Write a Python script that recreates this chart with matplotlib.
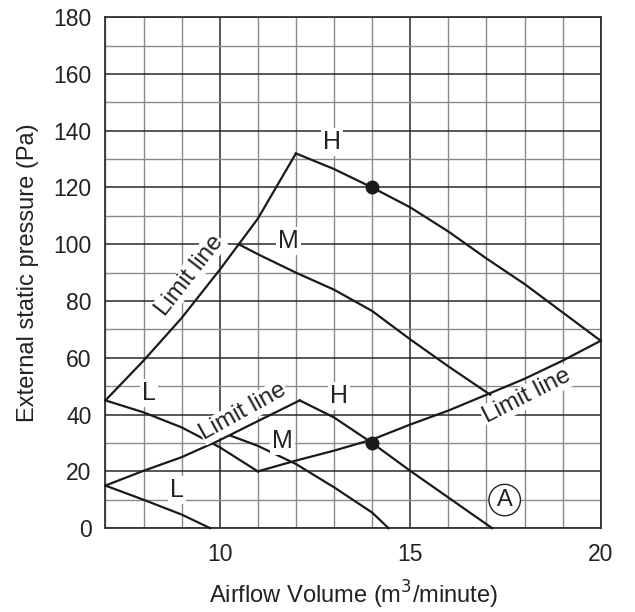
import matplotlib.pyplot as plt

plt.rcParams['font.family'] = ['Liberation Sans', 'DejaVu Sans']

# data
upper_limit_x = [7, 8, 9, 10, 10.5, 11, 12]
upper_limit_y = [45, 59, 74, 91, 100, 109, 132]
upper_h_x = [12, 13, 14, 15, 16, 17, 18, 19, 20]
upper_h_y = [132, 126.5, 120, 113, 104.5, 95, 86, 76, 66]
upper_m_x = [10.5, 11, 12, 13, 14, 15, 16, 17.1]
upper_m_y = [100, 96.5, 90, 84, 76.5, 66.5, 57, 47]

lower_limit_r_x = [11, 12, 13, 14, 15, 16, 17, 18, 19, 20]
lower_limit_r_y = [20, 23.8, 27.3, 31.2, 36.5, 41.4, 47, 52.6, 59, 66]
lower_limit_l_x = [7, 8, 9, 10, 11, 12.1]
lower_limit_l_y = [15, 20.2, 25, 31, 37.7, 45]
lower_h_x = [12.1, 13, 14, 15, 16, 17.15]
lower_h_y = [45, 39, 30, 20.2, 10.8, 0]
lower_m_x = [10.28, 11, 12, 13, 14, 14.43]
lower_m_y = [32.6, 29, 22.6, 14.4, 5.5, 0]
upper_l_x = [7, 8, 9, 10, 11]
upper_l_y = [45, 40.8, 35.5, 28.5, 20]
lower_l_x = [7, 8, 9, 9.75]
lower_l_y = [15, 10, 4.8, 0]

dots_x = [14, 14]
dots_y = [120, 30]

fig = plt.figure(figsize=(6.35, 6.12), dpi=100)
ax = fig.add_axes([0.166, 0.137, 0.78, 0.835])

ax.set_xlim(7, 20)
ax.set_ylim(0, 180)
ax.set_xticks([10, 15, 20])
ax.set_xticks(range(7, 21), minor=True)
ax.set_yticks(range(0, 181, 20))
ax.set_yticks(range(0, 181, 10), minor=True)
ax.grid(which='major', color='#2a2a2a', lw=1.1)
ax.grid(which='minor', color='#8a8a8a', lw=1.0)
ax.set_axisbelow(True)
ax.tick_params(which='both', length=0, labelsize=16.5, colors='#222222')
ax.tick_params(axis='x', pad=11)
ax.tick_params(axis='y', pad=10)
for s in ax.spines.values():
    s.set_color('#333333')
    s.set_linewidth(1.3)

lc = '#1a1a1a'
for xs, ys in [(upper_limit_x, upper_limit_y), (upper_h_x, upper_h_y),
               (upper_m_x, upper_m_y), (lower_limit_r_x, lower_limit_r_y),
               (lower_limit_l_x, lower_limit_l_y), (lower_h_x, lower_h_y),
               (lower_m_x, lower_m_y), (upper_l_x, upper_l_y),
               (lower_l_x, lower_l_y)]:
    ax.plot(xs, ys, color=lc, lw=1.6, zorder=3, clip_on=False)

ax.plot(dots_x, dots_y, 'o', color=lc, ms=9, zorder=4)

box = dict(facecolor='white', edgecolor='none', pad=1.5)
for txt, x, y in [('H', 12.95, 136), ('M', 11.8, 101), ('L', 8.15, 47.5),
                  ('H', 13.12, 46.7), ('M', 11.65, 30.8), ('L', 8.87, 13.4)]:
    ax.text(x, y, txt, fontsize=18, ha='center', va='center', color='#222222',
            bbox=box, zorder=5)

limit_box = dict(facecolor='white', edgecolor='none', pad=0.5)
ax.text(9.2, 89, 'Limit line', fontsize=17.5, rotation=52, ha='center',
        va='center', color='#222222', bbox=limit_box,
        rotation_mode='anchor', zorder=5)
ax.text(10.62, 41, 'Limit line', fontsize=17.5, rotation=29, ha='center',
        va='center', color='#222222', bbox=limit_box,
        rotation_mode='anchor', zorder=5)
ax.text(18.05, 46.4, 'Limit line', fontsize=17.5, rotation=27, ha='center',
        va='center', color='#222222', bbox=limit_box,
        rotation_mode='anchor', zorder=5)

ax.text(17.48, 9.9, 'A', fontsize=17, ha='center', va='center', color='#222222',
        bbox=dict(boxstyle='circle,pad=0.2', facecolor='white', edgecolor='#222222', lw=1),
        zorder=5)

ax.set_xlabel('Airflow Volume (m$^3$/minute)', fontsize=17, color='#222222', labelpad=9)
ax.set_ylabel('External static pressure (Pa)', fontsize=17, color='#222222', labelpad=10)

fig.savefig('out.png', dpi=100)
